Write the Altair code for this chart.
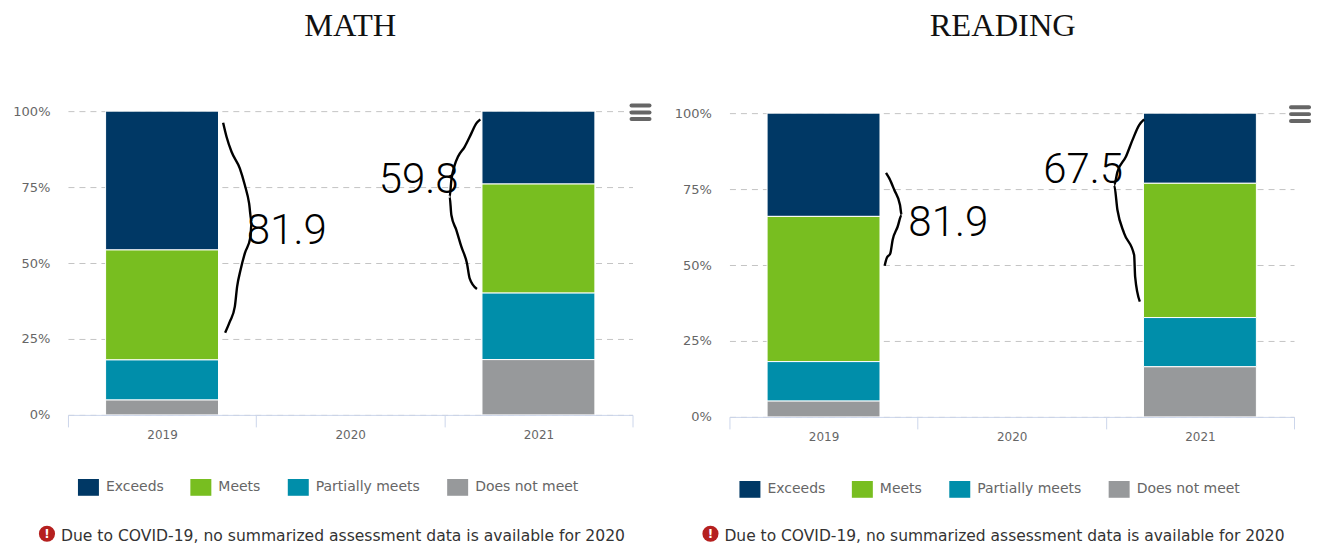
import altair as alt
import pandas as pd

YEARS = ["2019", "2020", "2021"]
LEVELS = ["Exceeds", "Meets", "Partially meets", "Does not meet"]
COLORS = ["#003865", "#78BE20", "#008EAA", "#97999B"]
NOTE = "Due to COVID-19, no summarized assessment data is available for 2020"
FONT = "DejaVu Sans"

# share of students, listed in the order of LEVELS
MATH_2019 = [45.7, 36.2, 13.2, 4.9]
MATH_2021 = [24.0, 35.9, 21.9, 18.2]
READ_2019 = [34.0, 47.8, 13.0, 5.2]
READ_2021 = [23.1, 44.2, 16.2, 16.5]

# Handwritten marks: horizontal and vertical position in the sheet
MATH_CURVE_A_X = [223.3, 226.7, 231.7, 240, 245, 249.3, 251.7, 250.7, 245, 240.7, 237.3, 235, 230, 225.3]
MATH_CURVE_A_Y = [122.7, 136.7, 151.7, 168.3, 185, 203.3, 221.7, 236.7, 253.3, 270, 286.7, 306.7, 321.7, 332.7]
MATH_CURVE_B_X = [480.7, 476.7, 471.7, 465, 458.3, 455, 451.7, 450, 451.7, 456.7, 461.7, 467.3, 470, 477.3]
MATH_CURVE_B_Y = [119.3, 123.3, 133.3, 146.7, 156.7, 165, 180, 196.7, 215, 230, 246.7, 263.3, 278.3, 289]
READ_CURVE_A_X = [886.7, 890, 895, 900.7, 902.3, 898.3, 893.3, 891, 887.3, 885.3]
READ_CURVE_A_Y = [172.7, 178.3, 190, 205, 215, 226.7, 240, 253.3, 258.3, 265.7]
READ_CURVE_B_X = [1145, 1140, 1133.3, 1126.7, 1118.3, 1115, 1118.3, 1125, 1135, 1136, 1140.7]
READ_CURVE_B_Y = [119.3, 125, 140, 156.7, 171.7, 185, 210, 233.3, 255, 276.7, 301.7]

MATH_NOTES = [("81.9", 287, 231), ("59.8", 419, 180)]
READ_NOTES = [("81.9", 949, 223), ("67.5", 1084, 170)]


def frame(values_2019, values_2021):
    rows = []
    for year, values in (("2019", values_2019), ("2021", values_2021)):
        for i, (level, value) in enumerate(zip(LEVELS, values)):
            rows.append({"year": year, "level": level, "value": value, "rank": -i})
    return pd.DataFrame(rows)


def panel(title, title_dx, title_offset, drop, values_2019, values_2021, curves, notes,
          x0, y0, legend_y, note_x, icon_x, note_y, note_size, menu_x, menu_ys):
    x1, y1 = x0 + 565, y0 + 304
    height = 304 + drop
    y_range = [height, drop]
    bars = alt.Chart(frame(values_2019, values_2021)).mark_bar(
        stroke="white", strokeWidth=1, width=113
    ).encode(
        x=alt.X("year:N", sort=YEARS, title=None,
                scale=alt.Scale(domain=YEARS, paddingInner=0, paddingOuter=0),
                axis=alt.Axis(labelAngle=0, labelFont=FONT, labelFontSize=12, labelColor="#666666",
                              labelPadding=3, domainColor="#ccd6eb", tickColor="#ccd6eb",
                              tickBand="extent", tickSize=12, grid=False, zindex=1)),
        y=alt.Y("value:Q", stack="zero", title=None,
                scale=alt.Scale(domain=[0, 100], nice=False, range=y_range),
                axis=alt.Axis(values=[0, 25, 50, 75, 100], labelExpr="datum.value + '%'",
                              labelFont=FONT, labelFontSize=13, labelColor="#666666",
                              labelPadding=18, domain=False, ticks=False, grid=True,
                              gridColor="#c4c4c4", gridDash=[6, 5], gridWidth=1)),
        color=alt.Color("level:N", sort=LEVELS, title=None,
                        scale=alt.Scale(domain=LEVELS, range=COLORS),
                        legend=alt.Legend(orient="none", legendX=10, legendY=legend_y, direction="horizontal",
                                          columns=4, columnPadding=26.5,
                                          symbolType="M-1,-0.8H1V0.8H-1Z", symbolSize=441,
                                          symbolStrokeWidth=0, labelFont=FONT, labelFontSize=14,
                                          labelColor="#666666", labelOffset=7, title=None)),
        order=alt.Order("rank:Q"),
    )

    sheet_x = alt.Scale(domain=[x0, x1], nice=False, zero=False)
    sheet_y = alt.Scale(domain=[y1, y0], nice=False, zero=False, range=y_range)
    X = alt.X("x:Q", scale=sheet_x, axis=None)
    Y = alt.Y("y:Q", scale=sheet_y, axis=None)

    curve_rows = []
    for c, (cx, cy) in enumerate(curves):
        for i, (a, b) in enumerate(zip(cx, cy)):
            curve_rows.append({"curve": c, "i": i, "x": a, "y": b})
    ink = alt.Chart(pd.DataFrame(curve_rows)).mark_line(
        color="black", strokeWidth=2.4, interpolate="monotone"
    ).encode(x=X, y=Y, detail="curve:N", order="i:Q")

    note_df = pd.DataFrame([{"t": t, "x": a, "y": b} for t, a, b in notes])
    handwriting = alt.Chart(note_df).mark_text(
        font="Roboto", fontWeight=300, fontSize=42, color="black", align="center", baseline="middle"
    ).encode(x=X, y=Y, text="t:N")

    footer = alt.Chart(pd.DataFrame([{"t": NOTE, "x": note_x, "y": note_y}])).mark_text(
        font=FONT, fontSize=note_size, color="#333333", align="left", baseline="middle"
    ).encode(x=X, y=Y, text="t:N")
    icon = alt.Chart(pd.DataFrame([{"x": icon_x, "y": note_y - 2}])).mark_point(
        filled=True, shape="circle", size=260, color="#b5201f", opacity=1
    ).encode(x=X, y=Y)
    icon_mark = alt.Chart(pd.DataFrame([{"t": "!", "x": icon_x, "y": note_y - 2}])).mark_text(
        font=FONT, fontSize=12, fontWeight="bold", color="white", align="center", baseline="middle"
    ).encode(x=X, y=Y, text="t:N")

    menu = alt.Chart(pd.DataFrame([{"x": menu_x, "x2": menu_x + 18, "y": m} for m in menu_ys])).mark_rule(
        color="#666666", strokeWidth=4, strokeCap="round"
    ).encode(x=X, x2="x2:Q", y=Y)

    return alt.layer(bars, ink, handwriting, footer, icon, icon_mark, menu).resolve_scale(
        x="independent", y="independent", color="independent"
    ).properties(
        width=565, height=height,
        title=alt.TitleParams(title, font="Liberation Serif", fontSize=32.5, fontWeight="normal",
                              color="#111111", dx=title_dx, offset=title_offset, anchor="middle"),
    )


left = panel("MATH", 0, 61, 0, MATH_2019, MATH_2021,
             [(MATH_CURVE_A_X, MATH_CURVE_A_Y), (MATH_CURVE_B_X, MATH_CURVE_B_Y)], MATH_NOTES,
             68, 111, 366, 61, 47, 536, 15.6, 632, [105.3, 112.3, 119])
right = panel("READING", -9, 63, 2, READ_2019, READ_2021,
              [(READ_CURVE_A_X, READ_CURVE_A_Y), (READ_CURVE_B_X, READ_CURVE_B_Y)], READ_NOTES,
              730, 113, 368, 725, 711, 536, 15.5, 1292, [107, 114, 121])

chart = alt.hconcat(left, right, spacing=22).properties(
    padding={"left": 4, "top": 1, "right": 0, "bottom": 0}
).configure_view(stroke=None)

chart.save("out.html", embed_options={"renderer": "svg", "actions": False})
